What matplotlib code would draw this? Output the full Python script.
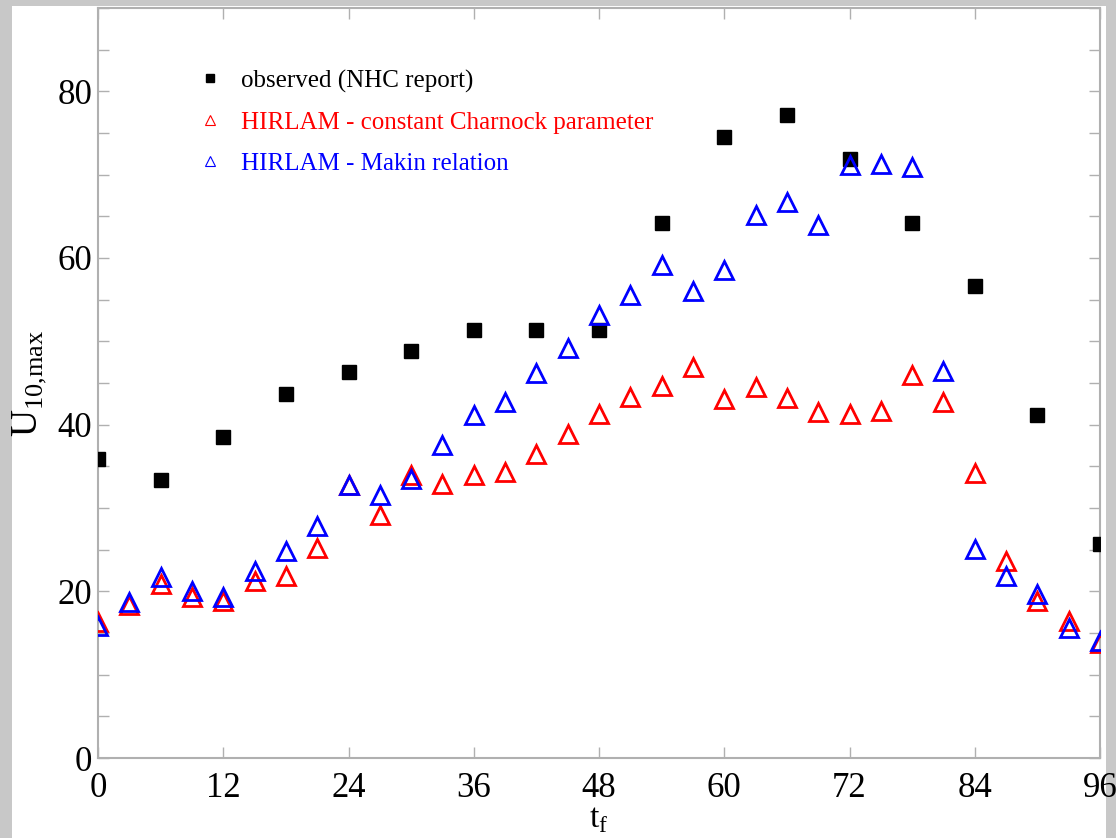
import matplotlib
matplotlib.use("Agg")
import matplotlib.pyplot as plt
from matplotlib.lines import Line2D
from matplotlib.patches import Rectangle

# ---- data ----
t_obs = [0, 6, 12, 18, 24, 30, 36, 42, 48, 54, 60, 66, 72, 78, 84, 90, 96]
u_obs = [35.9, 33.4, 38.5, 43.7, 46.3, 48.8, 51.4, 51.4, 51.4, 64.2, 74.5, 77.2,
         71.9, 64.2, 56.6, 41.1, 25.7]

t_mod = [0, 3, 6, 9, 12, 15, 18, 21, 24, 27, 30, 33, 36, 39, 42, 45, 48, 51, 54,
         57, 60, 63, 66, 69, 72, 75, 78, 81, 84, 87, 90, 93, 96]
u_charnock = [16.3, 18.4, 20.9, 19.3, 18.9, 21.3, 21.9, 25.2, 32.7, 29.1, 33.9,
              32.9, 34.0, 34.3, 36.5, 38.9, 41.3, 43.3, 44.6, 46.9, 43.1, 44.5,
              43.2, 41.5, 41.3, 41.6, 45.9, 42.7, 34.2, 23.6, 18.8, 16.5, 13.8]
u_makin = [15.9, 18.7, 21.7, 20.0, 19.3, 22.4, 24.9, 27.9, 32.8, 31.6, 33.5,
           37.6, 41.1, 42.7, 46.2, 49.2, 53.2, 55.5, 59.1, 56.0, 58.6, 65.1,
           66.7, 64.0, 71.1, 71.3, 70.9, 46.4, 25.1, 21.8, 19.7, 15.6, 14.1]

x_ticks = [0, 12, 24, 36, 48, 60, 72, 84, 96]
y_major = [0, 20, 40, 60, 80]
y_minor = [5 * i for i in range(19)]

labels = ["observed (NHC report)",
          "HIRLAM - constant Charnock parameter",
          "HIRLAM - Makin relation"]

SERIF = ["Liberation Serif", "DejaVu Serif"]
plt.rcParams["font.family"] = SERIF

W, H = 1116, 838
fig = plt.figure(figsize=(W / 100, H / 100), dpi=100, facecolor="#c8c8c8")
panel = Rectangle((12 / W, 0), (1106 - 12) / W, (838 - 6) / H,
                  transform=fig.transFigure, facecolor="white",
                  edgecolor="none", zorder=-10)
fig.add_artist(panel)

ax = fig.add_axes([98 / W, 1 - 758 / H, (1100 - 98) / W, (758 - 8) / H])
ax.set_facecolor("white")

ax.plot(t_obs, u_obs, ls="none", marker="s", ms=10, mfc="black", mec="black",
        zorder=3)
ax.plot(t_mod, u_charnock, ls="none", marker="^", ms=12.5, mfc="none",
        mec="red", mew=2.0, zorder=4)
ax.plot(t_mod, u_makin, ls="none", marker="^", ms=12.5, mfc="none",
        mec="blue", mew=2.0, zorder=5)

ax.set_xlim(0, 96)
ax.set_ylim(0, 90)
ax.set_xticks(x_ticks)
ax.set_yticks(y_major)
ax.set_yticks(y_minor, minor=True)

for s in ax.spines.values():
    s.set_color("#b0b0b0")
    s.set_linewidth(1.5)

ax.tick_params(axis="both", which="both", direction="in", color="#b0b0b0",
               top=True, right=True, width=1.0)
ax.tick_params(axis="both", which="major", length=8, labelsize=25)
ax.tick_params(axis="y", which="minor", length=8)
ax.tick_params(axis="x", which="major", pad=10)
ax.tick_params(axis="y", which="major", pad=4)

ax.set_xlabel(r"t$_\mathregular{f}$", fontsize=24, labelpad=0)
ax.set_ylabel(r"U$_{\mathregular{10{,}max}}$", fontsize=27, labelpad=6)

handles = [
    Line2D([], [], ls="none", marker="s", ms=5.5, mfc="black", mec="black"),
    Line2D([], [], ls="none", marker="^", ms=7, mfc="none", mec="red", mew=0.8),
    Line2D([], [], ls="none", marker="^", ms=7, mfc="none", mec="blue", mew=0.8),
]
leg = ax.legend(handles, labels, loc="upper left", bbox_to_anchor=(0.077, 0.948),
                frameon=False, fontsize=18, handlelength=1.0, handletextpad=0.75,
                labelspacing=0.75, labelcolor=["black", "red", "blue"])

fig.savefig("out.png", dpi=100, facecolor=fig.get_facecolor())
